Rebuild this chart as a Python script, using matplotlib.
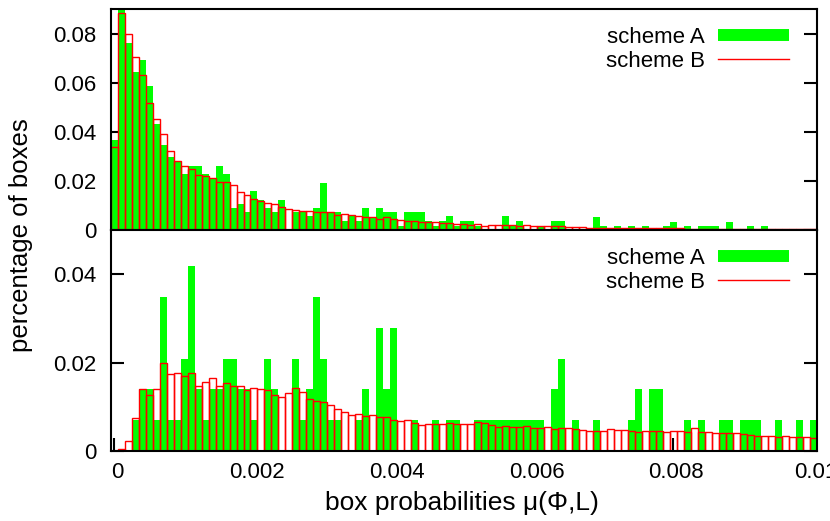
import numpy as np
import matplotlib
matplotlib.use("Agg")
import matplotlib.pyplot as plt
from matplotlib.lines import Line2D
from matplotlib.transforms import ScaledTranslation

plt.rcParams['font.family'] = ['Liberation Sans', 'DejaVu Sans']

# histogram bins: width 1e-4, bins centred at 0, 1e-4, ..., 1e-2
bin_width = 0.0001
bin_centers = np.arange(101) * bin_width

# upper panel
schemeA_top = [
    0.0366, 0.0930, 0.0763, 0.0642, 0.0692, 0.0588, 0.0433, 0.0348, 0.0296, 0.0280,
    0.0228, 0.0262, 0.0262, 0.0228, 0.0211, 0.0262, 0.0228, 0.0090, 0.0107, 0.0072,
    0.0157, 0.0123, 0.0090, 0.0072, 0.0123, 0.0000, 0.0072, 0.0072, 0.0056, 0.0090,
    0.0191, 0.0070, 0.0072, 0.0038, 0.0056, 0.0038, 0.0088, 0.0052, 0.0088, 0.0072,
    0.0072, 0.0018, 0.0072, 0.0072, 0.0072, 0.0038, 0.0018, 0.0038, 0.0056, 0.0018,
    0.0038, 0.0038, 0.0018, 0.0000, 0.0000, 0.0000, 0.0056, 0.0018, 0.0038, 0.0000,
    0.0000, 0.0018, 0.0000, 0.0038, 0.0038, 0.0000, 0.0000, 0.0000, 0.0000, 0.0053,
    0.0017, 0.0000, 0.0017, 0.0000, 0.0017, 0.0000, 0.0017, 0.0000, 0.0000, 0.0017,
    0.0034, 0.0000, 0.0017, 0.0000, 0.0017, 0.0017, 0.0017, 0.0000, 0.0034, 0.0000,
    0.0000, 0.0017, 0.0000, 0.0017, 0.0000, 0.0000, 0.0000, 0.0000, 0.0000, 0.0000,
    0.0000,
]
schemeB_top = [
    0.0340, 0.0884, 0.0797, 0.0705, 0.0632, 0.0518, 0.0451, 0.0393, 0.0321, 0.0282,
    0.0261, 0.0247, 0.0224, 0.0220, 0.0211, 0.0195, 0.0195, 0.0184, 0.0154, 0.0143,
    0.0127, 0.0120, 0.0112, 0.0104, 0.0094, 0.0087, 0.0080, 0.0077, 0.0077, 0.0075,
    0.0075, 0.0073, 0.0063, 0.0065, 0.0060, 0.0056, 0.0053, 0.0053, 0.0046, 0.0052,
    0.0045, 0.0040, 0.0038, 0.0036, 0.0034, 0.0034, 0.0034, 0.0030, 0.0030, 0.0025,
    0.0023, 0.0022, 0.0023, 0.0018, 0.0021, 0.0021, 0.0019, 0.0021, 0.0018, 0.0019,
    0.0018, 0.0018, 0.0017, 0.0017, 0.0015, 0.0011, 0.0011, 0.0011, 0.0010, 0.0010,
    0.0010, 0.0009, 0.0009, 0.0009, 0.0008, 0.0008, 0.0008, 0.0008, 0.0007, 0.0007,
    0.0007, 0.0007, 0.0006, 0.0006, 0.0006, 0.0006, 0.0006, 0.0005, 0.0005, 0.0005,
    0.0005, 0.0005, 0.0005, 0.0004, 0.0004, 0.0004, 0.0004, 0.0004, 0.0004, 0.0004,
    0.0004,
]

# lower panel
schemeA_bot = [
    0.0000, 0.0000, 0.0000, 0.0070, 0.0140, 0.0140, 0.0070, 0.0348, 0.0070, 0.0070,
    0.0208, 0.0418, 0.0140, 0.0070, 0.0140, 0.0140, 0.0208, 0.0208, 0.0140, 0.0140,
    0.0070, 0.0000, 0.0208, 0.0140, 0.0000, 0.0000, 0.0208, 0.0070, 0.0140, 0.0348,
    0.0208, 0.0070, 0.0070, 0.0000, 0.0000, 0.0070, 0.0140, 0.0000, 0.0279, 0.0140,
    0.0279, 0.0000, 0.0000, 0.0070, 0.0000, 0.0000, 0.0070, 0.0000, 0.0070, 0.0070,
    0.0000, 0.0000, 0.0070, 0.0070, 0.0070, 0.0070, 0.0070, 0.0070, 0.0070, 0.0070,
    0.0070, 0.0070, 0.0000, 0.0140, 0.0208, 0.0000, 0.0070, 0.0000, 0.0000, 0.0070,
    0.0000, 0.0000, 0.0000, 0.0000, 0.0070, 0.0140, 0.0000, 0.0140, 0.0140, 0.0000,
    0.0000, 0.0000, 0.0070, 0.0000, 0.0070, 0.0000, 0.0000, 0.0070, 0.0070, 0.0000,
    0.0070, 0.0070, 0.0070, 0.0000, 0.0000, 0.0070, 0.0000, 0.0000, 0.0070, 0.0000,
    0.0070,
]
schemeB_bot = [
    0.0000, 0.0004, 0.0023, 0.0075, 0.0140, 0.0127, 0.0140, 0.0198, 0.0174, 0.0176,
    0.0170, 0.0177, 0.0147, 0.0156, 0.0165, 0.0146, 0.0153, 0.0147, 0.0148, 0.0137,
    0.0142, 0.0140, 0.0139, 0.0126, 0.0121, 0.0131, 0.0143, 0.0133, 0.0117, 0.0114,
    0.0110, 0.0105, 0.0094, 0.0088, 0.0082, 0.0083, 0.0080, 0.0082, 0.0076, 0.0076,
    0.0069, 0.0067, 0.0069, 0.0063, 0.0059, 0.0061, 0.0061, 0.0060, 0.0063, 0.0060,
    0.0062, 0.0062, 0.0065, 0.0063, 0.0059, 0.0055, 0.0057, 0.0055, 0.0054, 0.0056,
    0.0053, 0.0051, 0.0055, 0.0050, 0.0051, 0.0051, 0.0049, 0.0047, 0.0045, 0.0045,
    0.0045, 0.0050, 0.0047, 0.0047, 0.0045, 0.0043, 0.0045, 0.0045, 0.0045, 0.0042,
    0.0046, 0.0045, 0.0042, 0.0051, 0.0042, 0.0042, 0.0040, 0.0040, 0.0041, 0.0040,
    0.0039, 0.0037, 0.0034, 0.0035, 0.0033, 0.0031, 0.0035, 0.0032, 0.0032, 0.0032,
    0.0029,
]

xticks = [0, 0.002, 0.004, 0.006, 0.008, 0.01]
xtick_labels = ["0", "0.002", "0.004", "0.006", "0.008", "0.01"]
yticks_top = [0, 0.02, 0.04, 0.06, 0.08]
yticks_bot = [0, 0.02, 0.04]

GREEN = "#00ff00"
RED = "#ff0000"
FS = 16


def drawPanel(ax, greenVals, redVals, ymax, yticks):
    ax.bar(bin_centers, greenVals, width=bin_width, color=GREEN, edgecolor="none", linewidth=0)
    ax.bar(bin_centers, redVals, width=bin_width, fill=False, edgecolor=RED, linewidth=1.0)
    ax.set_xlim(-0.00005, 0.01005)
    ax.set_ylim(0, ymax)
    ax.set_yticks(yticks)
    ax.set_yticklabels(["0" if v == 0 else f"{v:g}" for v in yticks], fontsize=FS)
    ax.set_axisbelow(True)
    ax.tick_params(axis="y", direction="in", length=9.5, width=1.5, left=True, right=True, pad=10.5)
    for s in ax.spines.values():
        s.set_linewidth(1.5)
    handles = [Line2D([], [], color=GREEN, lw=8.6, solid_capstyle="butt"),
               Line2D([], [], color=RED, lw=1.0)]
    ax.legend(handles, ["scheme A", "scheme B"], loc="upper right", bbox_to_anchor=(0.961, 0.918),
              frameon=False, fontsize=FS, markerfirst=False, handlelength=3.2, handletextpad=0.6,
              labelspacing=0.14, borderpad=0, borderaxespad=0)


fig = plt.figure(figsize=(8.3, 5.21), dpi=100)
left, width, height = 0.1334, 0.8504, 0.4242
axTop = fig.add_axes([left, 0.5585, width, height])
axBot = fig.add_axes([left, 0.1344, width, height])

drawPanel(axTop, schemeA_top, schemeB_top, 0.09, yticks_top)
drawPanel(axBot, schemeA_bot, schemeB_bot, 0.05, yticks_bot)

axTop.set_xticks(xticks)
axTop.tick_params(axis="x", bottom=False, labelbottom=False)
axBot.set_xticks(xticks)
axBot.set_xticklabels(xtick_labels, fontsize=FS)
axBot.tick_params(axis="x", direction="in", length=9.5, width=1.5, pad=8)
# gnuplot puts the tick labels a few pixels right of the tick
for lab in axBot.get_xticklabels():
    lab.set_transform(lab.get_transform() + ScaledTranslation(3 / 100, 0, fig.dpi_scale_trans))

fig.text(0.5566, 0.021, "box probabilities μ(Φ,L)", fontsize=19, ha="center", va="baseline")
fig.text(0.025, 1 - 235 / 521, "percentage of boxes", fontsize=18.5, rotation=90, ha="center", va="center")

fig.savefig("out.png", dpi=100)
